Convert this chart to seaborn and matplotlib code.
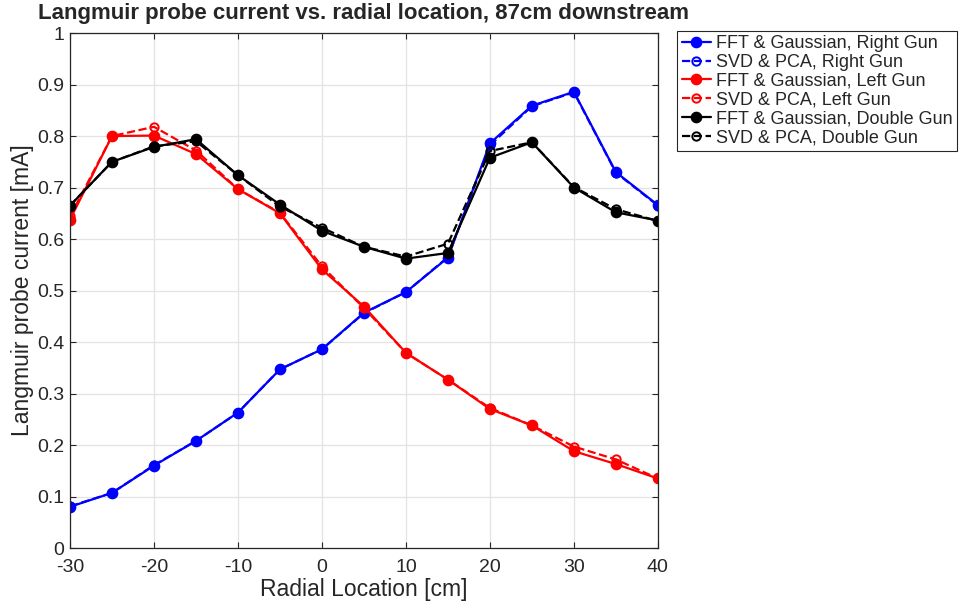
import matplotlib
matplotlib.use("Agg")
import matplotlib.pyplot as plt
import seaborn as sns
import numpy as np

radial = [-30, -25, -20, -15, -10, -5, 0, 5, 10, 15, 20, 25, 30, 35, 40]

fft_right = [0.080, 0.107, 0.160, 0.208, 0.263, 0.347, 0.386, 0.457, 0.497, 0.564, 0.786, 0.859, 0.886, 0.730, 0.666]
svd_right = [0.081, 0.107, 0.161, 0.208, 0.263, 0.347, 0.386, 0.456, 0.497, 0.565, 0.782, 0.858, 0.885, 0.729, 0.665]
fft_left = [0.638, 0.800, 0.801, 0.765, 0.697, 0.650, 0.541, 0.469, 0.379, 0.327, 0.270, 0.238, 0.188, 0.163, 0.135]
svd_left = [0.644, 0.800, 0.818, 0.772, 0.697, 0.651, 0.547, 0.466, 0.379, 0.327, 0.272, 0.238, 0.197, 0.172, 0.135]
fft_double = [0.665, 0.750, 0.779, 0.794, 0.724, 0.667, 0.616, 0.585, 0.562, 0.573, 0.758, 0.788, 0.700, 0.652, 0.636]
svd_double = [0.665, 0.750, 0.780, 0.790, 0.724, 0.663, 0.622, 0.585, 0.566, 0.591, 0.771, 0.788, 0.701, 0.658, 0.635]

series = [
    ("FFT & Gaussian, Right Gun", fft_right, "#0000ff", "-", True),
    ("SVD & PCA, Right Gun", svd_right, "#0000ff", "--", False),
    ("FFT & Gaussian, Left Gun", fft_left, "#ff0000", "-", True),
    ("SVD & PCA, Left Gun", svd_left, "#ff0000", "--", False),
    ("FFT & Gaussian, Double Gun", fft_double, "#000000", "-", True),
    ("SVD & PCA, Double Gun", svd_double, "#000000", "--", False),
]

sns.set_style("whitegrid")
plt.rcParams['font.family'] = ['Liberation Sans', 'DejaVu Sans']

fig = plt.figure(figsize=(9.59, 6.02), dpi=100)
ax = fig.add_axes([0.073, 0.0897, 0.613, 0.8553])

for label, vals, col, ls, filled in series:
    sns.lineplot(x=radial, y=vals, ax=ax, color=col, linestyle=ls, linewidth=1.6,
                 marker='o', markersize=7 if filled else 6,
                 markerfacecolor=col if filled else 'none',
                 markeredgecolor=col, markeredgewidth=1.4, label=label)

ax.set_xlim(-30, 40)
ax.set_ylim(0, 1)
ax.set_xticks(range(-30, 41, 10))
ax.set_xticklabels([str(v) for v in range(-30, 41, 10)])
yt = [i / 10 for i in range(11)]
ax.set_yticks(yt)
ax.set_yticklabels(["0", "0.1", "0.2", "0.3", "0.4", "0.5", "0.6", "0.7", "0.8", "0.9", "1"])
ax.grid(True, color='#e3e3e3', linewidth=0.9)
for s in ax.spines.values():
    s.set_color('#262626')
    s.set_linewidth(0.9)
    s.set_visible(True)
ax.tick_params(axis='both', direction='in', length=4, width=0.8, labelsize=14,
               top=True, right=True, bottom=True, left=True, colors='#262626')
ax.tick_params(axis='x', pad=8)
ax.tick_params(axis='y', pad=4)
ax.set_xlabel("Radial Location [cm]", fontsize=16.5, color='#262626', labelpad=1)
ax.set_ylabel("Langmuir probe current [mA]", fontsize=16.5, color='#262626', labelpad=2)
ax.set_title("Langmuir probe current vs. radial location, 87cm downstream",
             fontsize=16, fontweight='bold', pad=10)

leg = ax.legend(loc='upper left', bbox_to_anchor=(1.033, 1.005), fontsize=13,
                frameon=True, fancybox=False, edgecolor='#262626', framealpha=1,
                handlelength=1.6, handletextpad=0.3, borderpad=0.25, labelspacing=0.1,
                borderaxespad=0)
leg.get_frame().set_linewidth(0.8)

fig.savefig("out.png", dpi=100)
